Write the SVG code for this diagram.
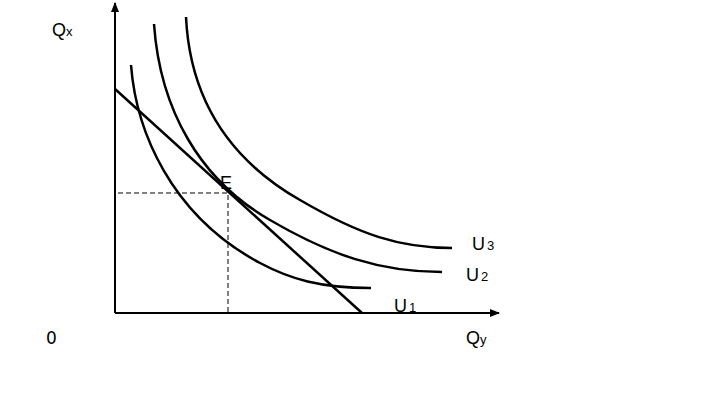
<svg xmlns="http://www.w3.org/2000/svg" width="708" height="409" viewBox="0 0 708 409">
<style>
.ax{stroke:#000;stroke-width:2;fill:none}
.c{stroke:#000;stroke-width:2.5;fill:none}
.d{stroke:#000;stroke-width:1;fill:none;stroke-dasharray:5,3}
text{font-family:"Liberation Sans",Arial,sans-serif;fill:#000;font-size:18px}
.s{font-size:13px}
</style>
<defs>
<marker id="ar" markerWidth="10" markerHeight="8" refX="9" refY="4" orient="auto" markerUnits="userSpaceOnUse">
<path d="M0,0 L10,4 L0,8 Z" fill="#000"/>
</marker>
</defs>
<rect width="708" height="409" fill="#fff"/>
<g id="connectors">
<path class="ax" d="M115,313 L115,3" marker-end="url(#ar)"/>
<path class="ax" d="M115,313 L499,313" marker-end="url(#ar)"/>
<path class="d" d="M118,193 L228,193 L228,313"/>
</g>
<g id="budget"><path class="c" d="M115,89 L362,313"/></g>
<g id="U1"><path class="c" d="M131,65 C136,130 170,215 260,263 C290,279 320,288 371,288"/><text x="394" y="312">U<tspan class="s" dx="2">1</tspan></text></g>
<g id="U2"><path class="c" d="M154,24 C160,110 200,180 270,220 C330,255 380,272 442,272"/><text x="466" y="281">U<tspan class="s" dx="2">2</tspan></text></g>
<g id="U3"><path class="c" d="M186,17 C190,100 230,160 300,200 C360,235 400,248 452,248"/><text x="472" y="250">U<tspan class="s" dx="2">3</tspan></text></g>
<g id="labels">
<text x="52" y="36">Q<tspan class="s">x</tspan></text>
<text x="466" y="344">Q<tspan class="s">y</tspan></text>
<text x="46" y="344" style="font-family:'DejaVu Sans',sans-serif;font-size:17px">0</text>
<text x="220" y="189">E</text>
</g>
</svg>
